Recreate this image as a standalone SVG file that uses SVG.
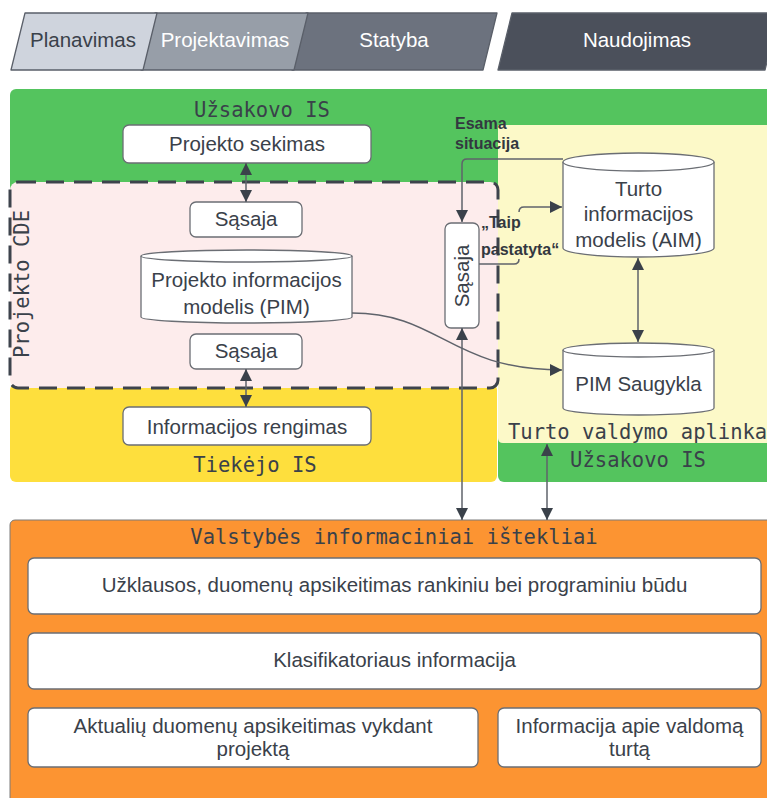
<svg xmlns="http://www.w3.org/2000/svg" width="767" height="798" viewBox="0 0 767 798">
  <style>
    .sans { font-family: "Liberation Sans", Arial, sans-serif; font-size: 20.5px; fill: #3a414a; text-anchor: middle; }
    .mono { font-family: "DejaVu Sans Mono", "Liberation Mono", monospace; font-size: 20.5px; fill: #3a414a; }
    .bold { font-family: "Liberation Sans", Arial, sans-serif; font-size: 16px; font-weight: bold; fill: #333840; }
    .tab { stroke: #5a5f69; stroke-width: 1.3; stroke-linejoin: round; }
    .box { fill: #ffffff; stroke: #6b6e74; stroke-width: 1.3; }
    .cyl { fill: #ffffff; stroke: #6b6e74; stroke-width: 1.3; }
    .wire { fill: none; stroke: #5f636b; stroke-width: 1.5; }
  </style>
  <defs>
    <marker id="arrow" viewBox="0 0 12 12" refX="12" refY="6" markerWidth="12" markerHeight="12" markerUnits="userSpaceOnUse" orient="auto-start-reverse">
      <path d="M0,0 L12,6 L0,12 z" fill="#3a414a"/>
    </marker>
  </defs>

  <!-- lifecycle phase tabs -->
  <g id="phases">
    <g id="tab-naudojimas">
      <polygon class="tab" points="512,13 779,13 765,70 498,70" fill="#4b505b"/>
      <text class="sans" x="637" y="47" style="fill:#ffffff">Naudojimas</text>
    </g>
    <g id="tab-statyba">
      <polygon class="tab" points="306,13 497,13 483,70 292,70" fill="#6c727e"/>
      <text class="sans" x="394" y="47" style="fill:#ffffff">Statyba</text>
    </g>
    <g id="tab-projektavimas">
      <polygon class="tab" points="155,13 308,13 294,70 141,70" fill="#979ea8"/>
      <text class="sans" x="225" y="47" style="fill:#ffffff">Projektavimas</text>
    </g>
    <g id="tab-planavimas">
      <polygon class="tab" points="25,13 157,13 143,70 11,70" fill="#cfd4dd"/>
      <text class="sans" x="83" y="47">Planavimas</text>
    </g>
  </g>

  <!-- environments -->
  <g id="uzsakovo-is">
    <rect x="10" y="89" width="767" height="120" rx="6" fill="#54c45e"/>
    <rect x="498" y="89" width="280" height="393" rx="6" fill="#54c45e"/>
    <text class="mono" x="262" y="117" text-anchor="middle">Užsakovo IS</text>
    <text class="mono" x="638" y="467" text-anchor="middle">Užsakovo IS</text>
  </g>
  <g id="turto-valdymo-aplinka">
    <path d="M498,125 H767 V443 H503 Q498,443 498,438 Z" fill="#fcf9c8"/>
    <text class="mono" x="508" y="439">Turto valdymo aplinka</text>
  </g>
  <g id="tiekejo-is">
    <rect x="10" y="384" width="487" height="98" rx="6" fill="#fedf3d"/>
    <text class="mono" x="255" y="472" text-anchor="middle">Tiekėjo IS</text>
  </g>
  <g id="projekto-cde">
    <rect x="10" y="182" width="488" height="206" rx="8" fill="#fdecec" stroke="#3d434c" stroke-width="3" stroke-dasharray="18 10"/>
    <text class="mono" transform="translate(29,284) rotate(-90)" text-anchor="middle">Projekto CDE</text>
  </g>

  <!-- nodes -->
  <g id="projekto-sekimas">
    <rect class="box" x="123" y="125" width="248" height="38" rx="6"/>
    <text class="sans" x="247" y="151">Projekto sekimas</text>
  </g>
  <g id="sasaja-virsus">
    <rect class="box" x="190" y="202" width="112" height="35" rx="6"/>
    <text class="sans" x="246" y="226">Sąsaja</text>
  </g>
  <g id="pim">
    <path class="cyl" d="M141,256 A105.5,6 0 0 1 352,256 V317 A105.5,6 0 0 1 141,317 Z"/>
    <path class="cyl" d="M141,256 A105.5,6 0 0 0 352,256" fill="none"/>
    <text class="sans" x="246.5" y="287">Projekto informacijos</text>
    <text class="sans" x="246.5" y="314">modelis (PIM)</text>
  </g>
  <g id="sasaja-apacia">
    <rect class="box" x="190" y="334" width="112" height="35" rx="6"/>
    <text class="sans" x="246" y="358">Sąsaja</text>
  </g>
  <g id="informacijos-rengimas">
    <rect class="box" x="123" y="407" width="248" height="38" rx="6"/>
    <text class="sans" x="247" y="434">Informacijos rengimas</text>
  </g>
  <g id="sasaja-vertikali">
    <rect class="box" x="445" y="223" width="34" height="105" rx="6"/>
    <text class="sans" transform="translate(469,276) rotate(-90)">Sąsaja</text>
  </g>
  <g id="aim">
    <path class="cyl" d="M563,162 A75.5,9 0 0 1 714,162 V248 A75.5,9 0 0 1 563,248 Z"/>
    <path class="cyl" d="M563,162 A75.5,9 0 0 0 714,162" fill="none"/>
    <text class="sans" x="638.5" y="196">Turto</text>
    <text class="sans" x="638.5" y="221">informacijos</text>
    <text class="sans" x="638.5" y="247">modelis (AIM)</text>
  </g>
  <g id="pim-saugykla">
    <path class="cyl" d="M563,350 A75.5,7 0 0 1 714,350 V408 A75.5,7 0 0 1 563,408 Z"/>
    <path class="cyl" d="M563,350 A75.5,7 0 0 0 714,350" fill="none"/>
    <text class="sans" x="638.5" y="391">PIM Saugykla</text>
  </g>

  <!-- state information resources -->
  <g id="valstybes-istekliai">
    <rect x="10" y="520" width="770" height="290" rx="5" fill="#fc9432" stroke="#7a7a7a" stroke-width="1"/>
    <text class="mono" x="394" y="544" text-anchor="middle">Valstybės informaciniai ištekliai</text>
  </g>
  <g id="uzklausos">
    <rect class="box" x="28" y="558" width="733" height="56" rx="6"/>
    <text class="sans" x="394.5" y="592">Užklausos, duomenų apsikeitimas rankiniu bei programiniu būdu</text>
  </g>
  <g id="klasifikatoriaus">
    <rect class="box" x="28" y="633" width="733" height="56" rx="6"/>
    <text class="sans" x="394.5" y="667">Klasifikatoriaus informacija</text>
  </g>
  <g id="aktualiu-duomenu">
    <rect class="box" x="28" y="708" width="450" height="59" rx="6"/>
    <text class="sans" x="253" y="733">Aktualių duomenų apsikeitimas vykdant</text>
    <text class="sans" x="253" y="756">projektą</text>
  </g>
  <g id="valdomas-turtas">
    <rect class="box" x="498" y="708" width="263" height="59" rx="6"/>
    <text class="sans" x="629.5" y="733">Informacija apie valdomą</text>
    <text class="sans" x="629.5" y="756">turtą</text>
  </g>

  <!-- connectors -->
  <g id="connectors">
    <path class="wire" d="M246,163 V202" marker-start="url(#arrow)" marker-end="url(#arrow)"/>
    <path class="wire" d="M246,369 V407" marker-start="url(#arrow)" marker-end="url(#arrow)"/>
    <path class="wire" d="M563,159 H467 Q462,159 462,164 V222" marker-end="url(#arrow)"/>
    <path class="wire" d="M479,264 H514 Q519,264 519,259 M519,212 Q519,207 524,207 H562" marker-end="url(#arrow)"/>
    <path class="wire" d="M638,258 V342" marker-start="url(#arrow)" marker-end="url(#arrow)"/>
    <path class="wire" d="M352,313 C440,313 450,370 562,370" marker-end="url(#arrow)"/>
    <path class="wire" d="M462,328 V520" marker-start="url(#arrow)" marker-end="url(#arrow)"/>
    <path class="wire" d="M547,444 V520" marker-start="url(#arrow)" marker-end="url(#arrow)"/>
  </g>

  <!-- connector labels -->
  <g id="labels">
    <text class="bold" x="455" y="129">Esama</text>
    <text class="bold" x="455" y="149">situacija</text>
    <text class="bold" x="481" y="228">„Taip</text>
    <text class="bold" x="481" y="255">pastatyta“</text>
  </g>
</svg>
